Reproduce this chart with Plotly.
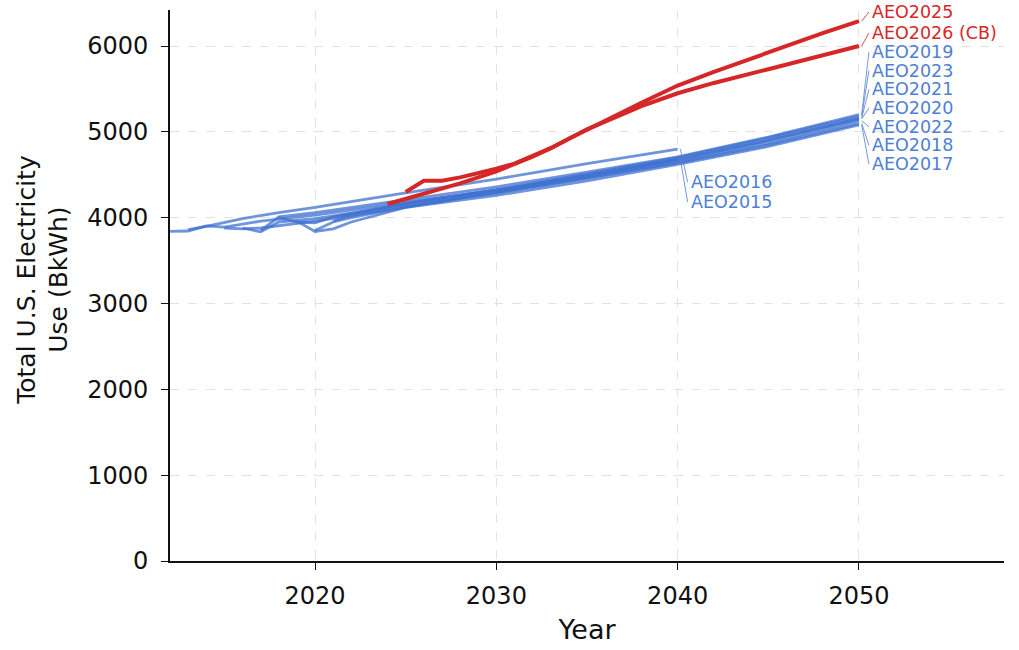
import plotly.graph_objects as go

# Total U.S. electricity use by Annual Energy Outlook edition (BkWh)
aeo2015_years = [2012, 2013, 2014, 2015, 2017, 2020, 2025, 2030, 2035, 2040]
aeo2015_vals = [3840, 3845, 3905, 3890, 3960, 4030, 4180, 4320, 4490, 4680]

aeo2016_years = [2013, 2014, 2016, 2018, 2020, 2025, 2030, 2035, 2040]
aeo2016_vals = [3860, 3900, 3990, 4060, 4120, 4290, 4450, 4630, 4800]

aeo2017_years = [2015, 2016, 2017, 2020, 2025, 2030, 2035, 2040, 2045, 2050]
aeo2017_vals = [3880, 3870, 3880, 3960, 4120, 4260, 4430, 4620, 4830, 5080]

aeo2018_years = [2016, 2017, 2018, 2020, 2025, 2030, 2035, 2040, 2045, 2050]
aeo2018_vals = [3880, 3835, 3950, 3990, 4150, 4290, 4460, 4640, 4850, 5100]

aeo2019_years = [2017, 2018, 2020, 2025, 2030, 2035, 2040, 2045, 2050]
aeo2019_vals = [3850, 4010, 4060, 4210, 4360, 4530, 4710, 4940, 5200]

aeo2020_years = [2018, 2019, 2020, 2021, 2025, 2030, 2035, 2040, 2045, 2050]
aeo2020_vals = [4000, 3950, 3940, 4010, 4170, 4320, 4500, 4680, 4900, 5150]

aeo2021_years = [2019, 2020, 2021, 2022, 2025, 2030, 2035, 2040, 2045, 2050]
aeo2021_vals = [3960, 3840, 3870, 3950, 4120, 4300, 4480, 4670, 4900, 5160]

aeo2022_years = [2020, 2021, 2022, 2025, 2030, 2035, 2040, 2045, 2050]
aeo2022_vals = [3850, 3950, 4000, 4130, 4290, 4460, 4650, 4870, 5130]

aeo2023_years = [2021, 2022, 2025, 2030, 2035, 2040, 2045, 2050]
aeo2023_vals = [3960, 4030, 4160, 4330, 4510, 4700, 4930, 5180]

aeo2025_years = [2025, 2026, 2027, 2028, 2030, 2031, 2032, 2033, 2034, 2035, 2036,
                 2038, 2040, 2042, 2045, 2048, 2050]
aeo2025_vals = [4300, 4430, 4430, 4470, 4570, 4630, 4720, 4810, 4920, 5030, 5130,
                5340, 5540, 5700, 5930, 6150, 6290]

aeo2026_years = [2024, 2026, 2028, 2030, 2031, 2032, 2033, 2034, 2035, 2036,
                 2038, 2040, 2042, 2045, 2048, 2050]
aeo2026_vals = [4160, 4280, 4400, 4540, 4620, 4710, 4810, 4920, 5030, 5120,
                5300, 5450, 5570, 5730, 5890, 6000]

# Label text and the value each label is placed at
blue_2040_names = ["AEO2016", "AEO2015"]
blue_2040_label_y = [4416, 4183]
blue_2050_names = ["AEO2019", "AEO2023", "AEO2021", "AEO2020", "AEO2022", "AEO2018", "AEO2017"]
blue_2050_label_y = [5930, 5713, 5495, 5278, 5060, 4843, 4625]
red_names = ["AEO2025", "AEO2026 (CB)"]
red_label_y = [6396, 6152]

x_ticks = [2020, 2030, 2040, 2050]
y_ticks = [0, 1000, 2000, 3000, 4000, 5000, 6000]

BLUE = "rgba(62,112,208,0.75)"
BLUE_TXT = "#4f7fd6"
RED = "#d62728"
FONT = "DejaVu Sans"

blue_series = {
    "AEO2015": (aeo2015_years, aeo2015_vals),
    "AEO2016": (aeo2016_years, aeo2016_vals),
    "AEO2017": (aeo2017_years, aeo2017_vals),
    "AEO2018": (aeo2018_years, aeo2018_vals),
    "AEO2019": (aeo2019_years, aeo2019_vals),
    "AEO2020": (aeo2020_years, aeo2020_vals),
    "AEO2021": (aeo2021_years, aeo2021_vals),
    "AEO2022": (aeo2022_years, aeo2022_vals),
    "AEO2023": (aeo2023_years, aeo2023_vals),
}
red_series = {
    "AEO2025": (aeo2025_years, aeo2025_vals),
    "AEO2026 (CB)": (aeo2026_years, aeo2026_vals),
}

fig = go.Figure()

for name, (xs, ys) in blue_series.items():
    fig.add_trace(go.Scatter(x=xs, y=ys, mode="lines", name=name,
                             line=dict(color=BLUE, width=2.8), showlegend=False))
for name, (xs, ys) in red_series.items():
    fig.add_trace(go.Scatter(x=xs, y=ys, mode="lines", name=name,
                             line=dict(color=RED, width=4), showlegend=False))

LABEL_DX = 0.7
annotations = []


def add_label(name, end_x, end_y, label_y, color, line_color):
    # thin leader from the line's end to its label
    fig.add_trace(go.Scatter(x=[end_x + 0.15, end_x + LABEL_DX - 0.15], y=[end_y, label_y],
                             mode="lines", line=dict(color=line_color, width=1),
                             showlegend=False, hoverinfo="skip"))
    annotations.append(dict(x=end_x + LABEL_DX - 0.1, y=label_y, text=name, xref="x", yref="y",
                            xanchor="left", yanchor="middle", showarrow=False,
                            font=dict(family=FONT, size=17.5, color=color)))


for name, ly in zip(blue_2040_names, blue_2040_label_y):
    xs, ys = blue_series[name]
    add_label(name, xs[-1], ys[-1], ly, BLUE_TXT, "rgba(79,127,214,0.8)")
for name, ly in zip(blue_2050_names, blue_2050_label_y):
    xs, ys = blue_series[name]
    add_label(name, xs[-1], ys[-1], ly, BLUE_TXT, "rgba(79,127,214,0.8)")
for name, ly in zip(red_names, red_label_y):
    xs, ys = red_series[name]
    add_label(name, xs[-1], ys[-1], ly, RED, "rgba(214,39,40,0.8)")

# y-axis title as two centred lines
annotations.append(dict(x=-0.1525, y=0.51, xref="paper", yref="paper", textangle=-90,
                        text="Total U.S. Electricity<br>Use (BkWh)", showarrow=False,
                        xanchor="center", yanchor="middle",
                        font=dict(family=FONT, size=25, color="#111")))

fig.update_layout(
    width=1019, height=650,
    margin=dict(l=170, r=15, t=10, b=89),
    plot_bgcolor="white", paper_bgcolor="white",
    font=dict(family=FONT, size=16, color="#111"),
    annotations=annotations,
    xaxis=dict(range=[2012, 2058], tickvals=x_ticks, ticks="outside", ticklen=7,
               tickwidth=1.4, tickcolor="#111", showline=True, linecolor="#111",
               linewidth=1.6, showgrid=True, gridcolor="#e2e2e2", griddash="dash",
               gridwidth=1, zeroline=False, ticklabelstandoff=5,
               title=dict(text="Year", font=dict(family=FONT, size=27, color="#111"),
                          standoff=12),
               tickfont=dict(family=FONT, size=24, color="#111")),
    yaxis=dict(range=[0, 6420], tickvals=y_ticks, ticks="outside", ticklen=7,
               tickwidth=1.4, tickcolor="#111", showline=True, linecolor="#111",
               linewidth=1.6, showgrid=True, gridcolor="#e2e2e2", griddash="dash",
               gridwidth=1, zeroline=False, ticklabelstandoff=8,
               tickfont=dict(family=FONT, size=24, color="#111")),
)

fig.write_html("out.html")
